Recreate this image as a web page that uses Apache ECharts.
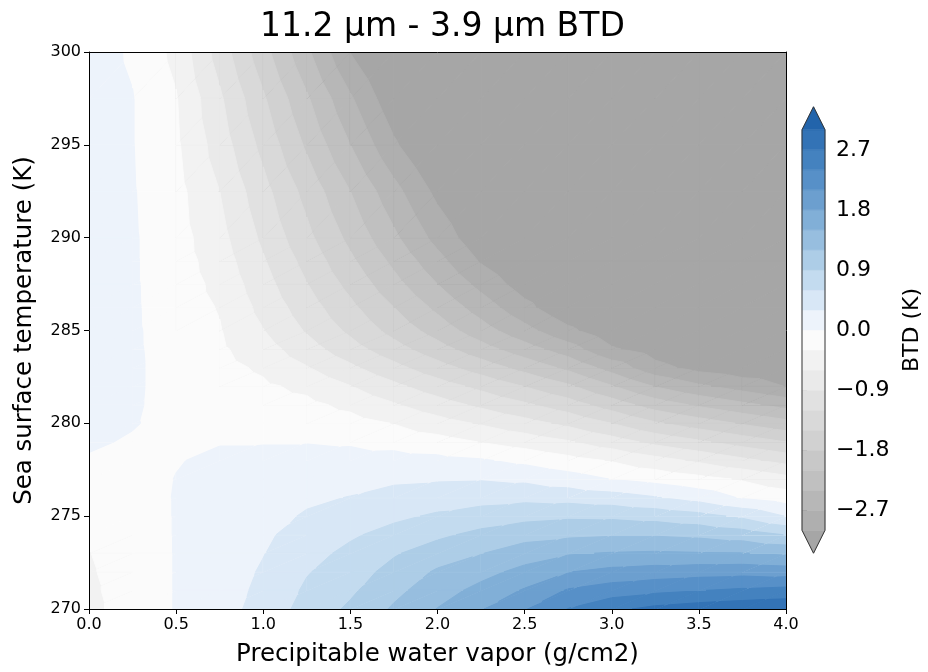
<!DOCTYPE html>
<html><head><meta charset="utf-8">
<script src="https://cdn.jsdelivr.net/npm/echarts@6/dist/echarts.min.js"></script>
<style>html,body{margin:0;padding:0;background:#fff}#c{width:928px;height:672px}</style>
</head><body><div id="c"></div>
<script>
// Grid axes
const pwv = [0.0,0.25,0.5,0.75,1.0,1.25,1.5,1.75,2.0,2.25,2.5,2.75,3.0,3.25,3.5,3.75,4.0];
const sst = [270,271,272,273,274,275,276,277,278,279,280,281,282,283,284,285,286.25,287.5,288.75,290,292.5,295,297.5,300];
// BTD values (K) along each SST row, one value per PWV column
const btd_270 = [-0.40,-0.12,0.01,0.20,0.39,0.72,0.95,1.24,1.51,1.78,2.08,2.41,2.63,2.78,2.86,2.91,2.94];
const btd_271 = [-0.37,-0.12,0.01,0.18,0.36,0.65,0.85,1.12,1.37,1.59,1.83,2.13,2.25,2.33,2.39,2.45,2.50];
const btd_272 = [-0.34,-0.12,0.01,0.16,0.33,0.58,0.76,1.00,1.24,1.40,1.59,1.79,1.89,1.94,1.98,2.00,1.96];
const btd_273 = [-0.31,-0.11,0.01,0.14,0.29,0.50,0.67,0.87,1.05,1.19,1.35,1.47,1.52,1.54,1.52,1.51,1.45];
const btd_274 = [-0.27,-0.10,0.01,0.12,0.25,0.42,0.56,0.70,0.84,0.98,1.09,1.14,1.17,1.17,1.13,1.05,0.89];
const btd_275 = [-0.20,-0.09,0.01,0.10,0.20,0.33,0.44,0.54,0.64,0.73,0.81,0.85,0.84,0.79,0.70,0.54,0.29];
const btd_276 = [-0.14,-0.08,0.01,0.08,0.15,0.25,0.31,0.40,0.46,0.49,0.52,0.49,0.43,0.32,0.18,-0.03,-0.15];
const btd_277 = [-0.08,-0.07,0.005,0.06,0.10,0.16,0.20,0.25,0.27,0.28,0.24,0.13,-0.01,-0.10,-0.21,-0.33,-0.50];
const btd_278 = [-0.03,-0.06,-0.01,0.035,0.05,0.08,0.09,0.10,0.08,0.03,-0.07,-0.20,-0.32,-0.49,-0.65,-0.83,-1.00];
const btd_279 = [0.04,-0.03,-0.06,-0.01,-0.01,-0.01,-0.03,-0.09,-0.18,-0.31,-0.43,-0.57,-0.76,-0.98,-1.15,-1.33,-1.50];
const btd_280 = [0.09,0.02,-0.09,-0.07,-0.09,-0.12,-0.19,-0.31,-0.48,-0.63,-0.79,-0.97,-1.20,-1.46,-1.65,-1.83,-2.00];
const btd_281 = [0.11,0.035,-0.10,-0.10,-0.17,-0.23,-0.37,-0.57,-0.77,-0.96,-1.15,-1.36,-1.64,-1.94,-2.15,-2.33,-2.50];
const btd_282 = [0.12,0.04,-0.10,-0.14,-0.25,-0.37,-0.59,-0.83,-1.06,-1.28,-1.51,-1.75,-2.08,-2.42,-2.65,-2.83,-3.01];
const btd_283 = [0.13,0.04,-0.10,-0.20,-0.35,-0.58,-0.84,-1.11,-1.38,-1.64,-1.90,-2.17,-2.52,-2.90,-3.10,-3.20,-3.25];
const btd_284 = [0.13,0.035,-0.10,-0.25,-0.47,-0.77,-1.08,-1.38,-1.68,-1.98,-2.27,-2.56,-2.96,-3.15,-3.32,-3.42,-3.45];
const btd_285 = [0.14,0.034,-0.11,-0.28,-0.59,-0.93,-1.26,-1.60,-1.93,-2.27,-2.60,-2.93,-3.22,-3.40,-3.52,-3.60,-3.65];
const btd_286_25 = [0.14,0.032,-0.13,-0.32,-0.69,-1.06,-1.43,-1.80,-2.17,-2.54,-2.91,-3.25,-3.43,-3.55,-3.64,-3.71,-3.76];
const btd_287_5 = [0.14,0.03,-0.14,-0.38,-0.78,-1.19,-1.59,-2.00,-2.40,-2.79,-3.15,-3.38,-3.55,-3.67,-3.76,-3.82,-3.87];
const btd_288_75 = [0.14,0.03,-0.16,-0.44,-0.87,-1.30,-1.74,-2.17,-2.60,-3.03,-3.33,-3.54,-3.70,-3.81,-3.90,-3.96,-4.01];
const btd_290 = [0.14,0.03,-0.17,-0.50,-0.96,-1.42,-1.88,-2.34,-2.80,-3.22,-3.50,-3.70,-3.85,-3.96,-4.05,-4.10,-4.15];
const btd_292_5 = [0.14,0.02,-0.20,-0.60,-1.10,-1.60,-2.10,-2.60,-3.08,-3.45,-3.72,-3.92,-4.07,-4.18,-4.27,-4.33,-4.38];
const btd_295 = [0.14,0.01,-0.25,-0.74,-1.29,-1.85,-2.40,-2.95,-3.40,-3.75,-4.00,-4.20,-4.35,-4.47,-4.56,-4.63,-4.68];
const btd_297_5 = [0.13,0.01,-0.28,-0.85,-1.46,-2.06,-2.66,-3.22,-3.60,-3.90,-4.15,-4.35,-4.50,-4.62,-4.72,-4.80,-4.85];
const btd_300 = [0.12,-0.036,-0.38,-1.03,-1.69,-2.34,-3.01,-3.50,-3.90,-4.20,-4.45,-4.65,-4.80,-4.95,-5.05,-5.15,-5.20];
const btdGrid = [btd_270,btd_271,btd_272,btd_273,btd_274,btd_275,btd_276,btd_277,btd_278,btd_279,btd_280,
  btd_281,btd_282,btd_283,btd_284,btd_285,btd_286_25,btd_287_5,btd_288_75,btd_290,btd_292_5,btd_295,btd_297_5,btd_300];

// Contour levels and colorbar ticks
const levels = [-3.0,-2.7,-2.4,-2.1,-1.8,-1.5,-1.2,-0.9,-0.6,-0.3,0.0,0.3,0.6,0.9,1.2,1.5,1.8,2.1,2.4,2.7,3.0];
const cbarTicks = [-2.7,-1.8,-0.9,0.0,0.9,1.8,2.7];

// Styles
const bandColors = ['#afafaf','#b7b7b7','#c0c0c0','#c8c8c8','#d1d1d1','#d9d9d9','#e1e1e1','#eaeaea','#f2f2f2','#fbfbfb',
  '#edf3fb','#d8e7f6','#c3dbef','#adcde7','#97bedf','#81afd7','#6c9fcf','#5790c8','#4482bf','#3373b6'];
const underColor = '#a6a6a6';
const overColor = '#2264ab';
const FONT = 'DejaVu Sans';

const bands = [{lo:-Infinity, hi:levels[0], color:underColor}];
for (let k = 0; k < levels.length - 1; k++) bands.push({lo:levels[k], hi:levels[k+1], color:bandColors[k]});
bands.push({lo:levels[levels.length-1], hi:Infinity, color:overColor});

// keep the part of a polygon (vertices [x, y, v]) where v >= lim
function clipAbove(poly, lim) {
  const out = [];
  const n = poly.length;
  for (let k = 0; k < n; k++) {
    const a = poly[k], b = poly[(k+1)%n];
    const ina = a[2] >= lim, inb = b[2] >= lim;
    if (ina) out.push(a);
    if (ina !== inb) {
      const t = (lim - a[2]) / (b[2] - a[2]);
      out.push([a[0] + t*(b[0]-a[0]), a[1] + t*(b[1]-a[1]), lim]);
    }
  }
  return out;
}

const cells = [];
for (let j = 0; j < sst.length - 1; j++)
  for (let i = 0; i < pwv.length - 1; i++)
    cells.push([pwv[i], sst[j], i, j]);

function renderCell(params, api) {
  const i = api.value(2), j = api.value(3);
  const A = [pwv[i], sst[j], btdGrid[j][i]];
  const B = [pwv[i+1], sst[j], btdGrid[j][i+1]];
  const C = [pwv[i+1], sst[j+1], btdGrid[j+1][i+1]];
  const D = [pwv[i], sst[j+1], btdGrid[j+1][i]];
  const children = [];
  [[A,B,C],[A,C,D]].forEach(tri => {
    const vs = tri.map(p => p[2]);
    const vmin = Math.min.apply(null, vs), vmax = Math.max.apply(null, vs);
    let started = false;
    bands.forEach(band => {
      if (band.hi <= vmin) return;
      if (band.lo > vmax) return;
      // layered fill: each band paints the region v >= its lower bound
      const poly = (!started || !isFinite(band.lo)) ? tri : clipAbove(tri, band.lo);
      started = true;
      if (poly.length < 3) return;
      children.push({
        type:'polygon', silent:true,
        shape:{points: poly.map(p => api.coord([p[0], p[1]]))},
        style:{fill:band.color, stroke:band.color, lineWidth:1}
      });
    });
  });
  return {type:'group', children};
}

const cbarItems = bands.map((b, k) => [0.5, 0, k]);
cbarItems.push([0.5, 0, -1]);
const EXT = 23;
function renderCbar(params, api) {
  const k = api.value(2);
  const lo = levels[0], hi = levels[levels.length-1];
  if (k === -1) {
    const lt = api.coord([0, hi]), rt = api.coord([1, hi]);
    const lb = api.coord([0, lo]), rb = api.coord([1, lo]);
    return {type:'polygon', silent:true, shape:{points:[
      [(lt[0]+rt[0])/2, lt[1]-EXT], rt, rb, [(lb[0]+rb[0])/2, lb[1]+EXT], lb, lt]},
      style:{fill:null, stroke:'#333', lineWidth:1}, z2:10};
  }
  const band = bands[k];
  if (!isFinite(band.lo)) {
    const l = api.coord([0, lo]), r = api.coord([1, lo]);
    return {type:'polygon', silent:true, shape:{points:[l, r, [(l[0]+r[0])/2, l[1]+EXT]]},
      style:{fill:band.color, stroke:band.color, lineWidth:0.5}};
  }
  if (!isFinite(band.hi)) {
    const l = api.coord([0, hi]), r = api.coord([1, hi]);
    return {type:'polygon', silent:true, shape:{points:[l, r, [(l[0]+r[0])/2, l[1]-EXT]]},
      style:{fill:band.color, stroke:band.color, lineWidth:0.5}};
  }
  const p0 = api.coord([0, band.hi]), p1 = api.coord([1, band.lo]);
  return {type:'rect', silent:true, shape:{x:p0[0], y:p0[1], width:p1[0]-p0[0], height:p1[1]-p0[1]},
    style:{fill:band.color, stroke:band.color, lineWidth:0.5}};
}

const fmtMinus = v => { if (Math.abs(v) < 1e-9) v = 0; return (v < 0 ? '\u2212' : '') + Math.abs(v).toFixed(1); };

const chart = echarts.init(document.getElementById('c'), null, {renderer:'canvas'});
chart.setOption({
  animation:false,
  backgroundColor:'#fff',
  textStyle:{fontFamily:FONT},
  title:{text:'11.2 \u00b5m - 3.9 \u00b5m BTD', left:255, top:6,
    textStyle:{fontFamily:FONT, fontSize:33, fontWeight:'normal', color:'#000'}},
  grid:[
    {left:89, top:52, width:697, height:557},
    {left:802, top:149.8, width:23, height:360.4}
  ],
  xAxis:[
    {type:'value', gridIndex:0, min:0, max:4, interval:0.5, z:10,
     name:'Precipitable water vapor (g/cm2)', nameLocation:'middle', nameGap:33,
     nameTextStyle:{fontFamily:FONT, fontSize:24.5, color:'#000'},
     axisLine:{show:true, onZero:false, lineStyle:{color:'#000', width:1}},
     axisTick:{show:true, inside:false, length:5, lineStyle:{color:'#000', width:1}},
     axisLabel:{fontFamily:FONT, fontSize:16, color:'#000', margin:8, formatter:v => v.toFixed(1)},
     splitLine:{show:false}},
    {type:'value', gridIndex:0, min:0, max:4, position:'top', z:10,
     axisLine:{show:true, onZero:false, lineStyle:{color:'#000', width:1}},
     axisTick:{show:false}, axisLabel:{show:false}, splitLine:{show:false}},
    {type:'value', gridIndex:1, min:0, max:1, show:false}
  ],
  yAxis:[
    {type:'value', gridIndex:0, min:270, max:300, interval:5, z:10,
     name:'Sea surface temperature (K)', nameLocation:'middle', nameGap:52,
     nameTextStyle:{fontFamily:FONT, fontSize:24.5, color:'#000'},
     axisLine:{show:true, onZero:false, lineStyle:{color:'#000', width:1}},
     axisTick:{show:true, inside:false, length:5, lineStyle:{color:'#000', width:1}},
     axisLabel:{fontFamily:FONT, fontSize:16, color:'#000', margin:8},
     splitLine:{show:false}},
    {type:'value', gridIndex:0, min:270, max:300, position:'right', z:10,
     axisLine:{show:true, onZero:false, lineStyle:{color:'#000', width:1}},
     axisTick:{show:false}, axisLabel:{show:false}, splitLine:{show:false}},
    {type:'value', gridIndex:1, min:cbarTicks[0], max:cbarTicks[cbarTicks.length-1], interval:0.9, position:'right',
     name:'BTD (K)', nameLocation:'middle', nameGap:76, nameRotate:90,
     nameTextStyle:{fontFamily:FONT, fontSize:22, color:'#000'},
     axisLine:{show:false},
     axisTick:{show:true, inside:false, length:5, lineStyle:{color:'#000', width:1}},
     axisLabel:{fontFamily:FONT, fontSize:22, color:'#000', margin:11, formatter:fmtMinus},
     splitLine:{show:false}}
  ],
  series:[
    {type:'custom', xAxisIndex:0, yAxisIndex:0, coordinateSystem:'cartesian2d', clip:true, silent:true,
     data:cells, encode:{x:0, y:1}, renderItem:renderCell, z:2},
    {type:'custom', xAxisIndex:2, yAxisIndex:2, coordinateSystem:'cartesian2d', clip:false, silent:true,
     data:cbarItems, encode:{x:0, y:1}, renderItem:renderCbar, z:2}
  ]
});
</script></body></html>
